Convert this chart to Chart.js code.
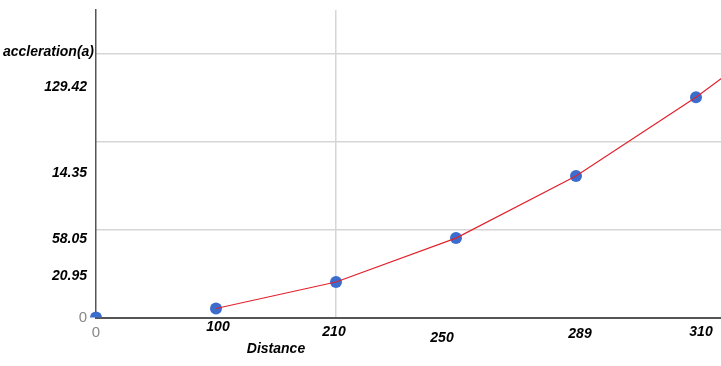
<!DOCTYPE html>
<html>
<head>
<meta charset="utf-8">
<script src="https://cdn.jsdelivr.net/npm/chart.js@4"></script>
<style>
  html, body { margin: 0; padding: 0; background: #fff; }
</style>
</head>
<body>
<canvas id="accelChart" width="721" height="366"></canvas>
<script>
const distances = ['0', '100', '210', '250', '289', '310'];
// last value sits past the right edge, only the line running to it shows
const accel = [0, 5.1, 20.2, 45.2, 80.5, 125.3, 176];
const yTickValues = [0, 23.8, 44.7, 82.2, 131.2];
const yTickLabels = ['0', '20.95', '58.05', '14.35', '129.42'];

// the distance labels were nudged by hand in the original
const xLabelShift = [0, 2, -2, -14, 4, 5];
const xLabelDrop = [15.5, 9.5, 14.5, 20.5, 16.5, 14.5];

const red = '#e3222e', blue = '#3b6dcf', gridGrey = '#d6d6d6', axisGrey = '#555';
const labelFont = { family: '"Liberation Sans", Arial, sans-serif', size: 14, weight: 'bold', style: 'italic' };
const zeroFont = { family: '"Liberation Sans", Arial, sans-serif', size: 15, weight: 'normal', style: 'normal' };

const points = accel.map((v, i) => ({ x: i, y: v }));
const xMax = 625 / 120, yMax = 175;

const handLabels = {
    id: 'handLabels',
    afterDraw(chart) {
        const { ctx, chartArea, scales: { x, y } } = chart;
        ctx.save();
        ctx.textAlign = 'center';
        ctx.textBaseline = 'middle';
        distances.forEach((d, i) => {
            if (i === 0) { ctx.font = '15px "Liberation Sans"'; ctx.fillStyle = '#888'; }
            else { ctx.font = 'italic bold 14px "Liberation Sans"'; ctx.fillStyle = '#000'; }
            ctx.fillText(d, x.getPixelForValue(i) + xLabelShift[i], chartArea.bottom + xLabelDrop[i]);
        });
        ctx.font = 'italic bold 14px "Liberation Sans"';
        ctx.fillStyle = '#000';
        ctx.fillText('Distance', x.getPixelForValue(1.5), chartArea.bottom + 31.5);
        ctx.textAlign = 'left';
        ctx.fillText('accleration(a)', 3, y.getPixelForValue(151));
        ctx.restore();
    }
};

new Chart(document.getElementById('accelChart'), {
    type: 'line',
    data: {
        datasets: [
            {
                data: points, borderColor: red, borderWidth: 1.2, pointRadius: 0, order: 0,
                segment: { borderColor: c => c.p0DataIndex === 0 ? 'transparent' : red }
            },
            {
                data: points, showLine: false, pointRadius: 6, pointBorderWidth: 0,
                pointBackgroundColor: blue, order: 1,
                clip: { left: 10, top: 10, right: 10, bottom: 0 }
            }
        ]
    },
    options: {
        responsive: false,
        animation: false,
        layout: { padding: 0, autoPadding: false },
        plugins: { legend: { display: false }, tooltip: { enabled: false } },
        scales: {
            x: {
                type: 'linear', position: 'bottom', min: 0, max: xMax,
                grid: { display: false },
                border: { color: axisGrey, width: 2 },
                ticks: { display: false },
                afterFit: s => { s.height = 366 - 317.5; s.paddingLeft = 0; s.paddingRight = 0; }
            },
            xGrid: {
                type: 'linear', position: 'top', min: 0, max: xMax,
                ticks: { display: false, stepSize: 2 },
                afterBuildTicks: s => { s.ticks = s.ticks.filter(t => t.value % 2 === 0); },
                grid: { drawTicks: false, color: c => c.tick && c.tick.value === 0 ? 'transparent' : gridGrey, lineWidth: 1.5 },
                border: { display: false },
                afterFit: s => { s.height = 10; s.paddingLeft = 0; s.paddingRight = 0; }
            },
            y: {
                type: 'linear', position: 'left', min: 0, max: yMax,
                afterBuildTicks: s => { s.ticks = yTickValues.map(v => ({ value: v })); },
                ticks: {
                    padding: 9,
                    callback: (v, i) => yTickLabels[i],
                    font: c => c.index === 0 ? zeroFont : labelFont,
                    color: c => c.index === 0 ? '#888' : '#000'
                },
                grid: { display: false, drawTicks: false },
                border: { color: axisGrey, width: 1.5 },
                afterFit: s => { s.width = 96; s.paddingTop = 0; s.paddingBottom = 0; }
            },
            yGrid: {
                type: 'linear', position: 'right', min: 0, max: yMax,
                ticks: { display: false, stepSize: 50 },
                afterBuildTicks: s => { s.ticks = s.ticks.filter(t => t.value % 50 === 0); },
                grid: { drawTicks: false, color: c => c.tick && c.tick.value === 0 ? 'transparent' : gridGrey, lineWidth: 1.5 },
                border: { display: false },
                afterFit: s => { s.width = 0; s.paddingTop = 0; s.paddingBottom = 0; }
            }
        }
    },
    plugins: [handLabels]
});
</script>
</body>
</html>
